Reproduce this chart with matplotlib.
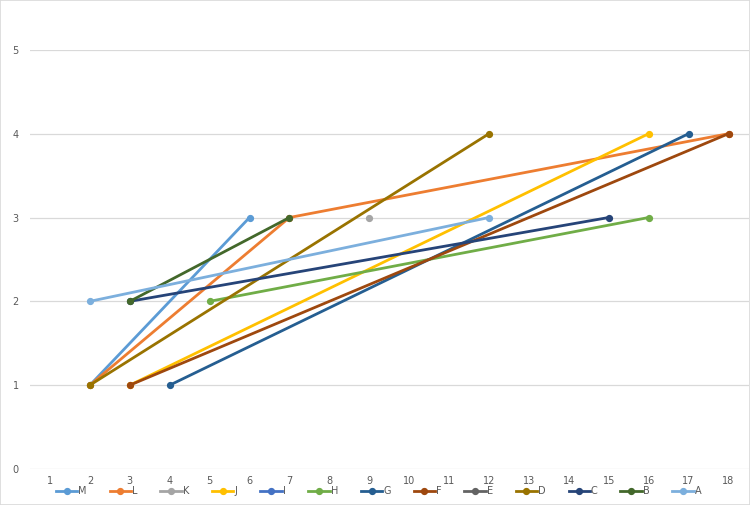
import matplotlib.pyplot as plt
from matplotlib.patches import Rectangle

names = ["M", "L", "K", "J", "I", "H", "G", "F", "E", "D", "C", "B", "A"]
xs = [[2, 6], [2, 7, 18], [9], [3, 16], [], [5, 16], [4, 17], [3, 18], [],
      [2, 12], [3, 15], [3, 7], [2, 12]]
ys = [[1, 3], [1, 3, 4], [3], [1, 4], [], [2, 3], [1, 4], [1, 4], [],
      [1, 4], [2, 3], [2, 3], [2, 3]]
colors = ["#5B9BD5", "#ED7D31", "#A5A5A5", "#FFC000", "#4472C4", "#70AD47",
          "#255E91", "#9E480E", "#636363", "#997300", "#264478", "#43682B",
          "#7CAFDD"]
xticks = list(range(1, 19))
yticks = [0, 1, 2, 3, 4, 5]

fig = plt.figure(figsize=(7.5, 5.05), dpi=100)
ax = fig.add_axes([0.04, 0.0713, 0.958, 0.83])

for n, x, y, c in zip(names, xs, ys, colors):
    ax.plot(x, y, color=c, lw=2.0, marker="o", ms=4.2, label=n, zorder=3)

ax.set_xlim(0.5, 18.5)
ax.set_ylim(0, 5)
ax.set_xticks(xticks)
ax.set_yticks(yticks)
ax.grid(axis="y", color="#D9D9D9", lw=0.9, zorder=0)
ax.tick_params(length=0, labelsize=7, labelcolor="#595959")
ax.tick_params(axis="x", pad=5)
ax.tick_params(axis="y", pad=8)
for s in ax.spines.values():
    s.set_visible(False)

fig.legend(loc="lower center", bbox_to_anchor=(0.505, 0.0), ncol=13,
           frameon=False, fontsize=7, labelcolor="#595959", handlelength=2.2,
           handletextpad=0.1, columnspacing=2.35)

fig.patches.append(Rectangle((0, 0), 1, 1, transform=fig.transFigure,
                             fill=False, ec="#D9D9D9", lw=1.2))

fig.savefig("out.png", dpi=100)
